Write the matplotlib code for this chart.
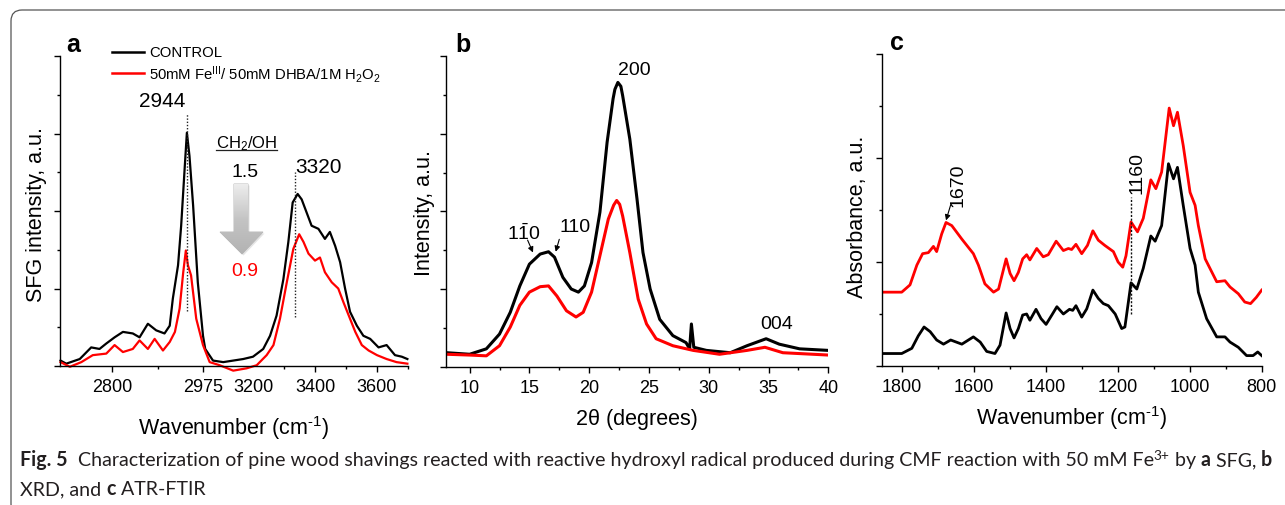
import numpy as np
import matplotlib
matplotlib.use('Agg')
import matplotlib.pyplot as plt
from matplotlib.patches import Polygon, FancyBboxPatch
from matplotlib.lines import Line2D
from matplotlib.ticker import MultipleLocator, FixedLocator, NullFormatter
from matplotlib import font_manager as fm
from matplotlib.transforms import IdentityTransform

plt.rcParams['font.family'] = ['Liberation Sans', 'DejaVu Sans']
plt.rcParams['mathtext.default'] = 'regular'

# ---------------- data ----------------
# (a) SFG
sfg_x_control = [2701, 2712, 2738, 2760, 2776, 2789, 2805, 2821, 2840, 2853,
                 2869, 2885, 2901, 2911, 2917, 2927, 2933, 2940, 2944, 2949,
                 2956, 2965, 2975, 2985, 3020, 3066, 3111, 3156, 3200, 3233,
                 3255, 3276, 3298, 3314, 3328, 3344, 3357, 3373, 3389, 3411,
                 3432, 3448, 3465, 3481, 3497, 3513, 3535, 3556, 3578, 3605,
                 3631, 3658, 3680, 3698]
sfg_y_control = [0.07, 0.03, 0.09, 0.24, 0.22, 0.29, 0.37, 0.44, 0.42, 0.37,
                 0.545, 0.46, 0.42, 0.52, 0.87, 1.30, 1.81, 2.58, 3.01, 2.71,
                 2.07, 1.08, 0.39, 0.22, 0.07, 0.05, 0.07, 0.09, 0.12, 0.22,
                 0.39, 0.65, 1.12, 1.60, 2.11, 2.22, 2.15, 1.98, 1.81, 1.77,
                 1.64, 1.73, 1.55, 1.34, 1.00, 0.70, 0.52, 0.39, 0.35, 0.24,
                 0.27, 0.14, 0.12, 0.09]
sfg_x_treated = [2701, 2719, 2741, 2763, 2789, 2805, 2821, 2840, 2853, 2869,
                 2882, 2898, 2911, 2921, 2930, 2937, 2942, 2946, 2952, 2962,
                 2975, 3005, 3050, 3111, 3171, 3212, 3244, 3266, 3287, 3309,
                 3330, 3349, 3363, 3379, 3400, 3416, 3432, 3454, 3475, 3492,
                 3513, 3530, 3551, 3573, 3600, 3631, 3663, 3698]
sfg_y_treated = [0.05, -0.01, 0.05, 0.14, 0.16, 0.27, 0.18, 0.22, 0.33, 0.22,
                 0.35, 0.20, 0.31, 0.44, 0.74, 1.21, 1.49, 1.30, 1.17, 0.61,
                 0.27, 0.05, 0.01, -0.06, -0.03, 0.01, 0.14, 0.27, 0.61, 1.08,
                 1.51, 1.70, 1.60, 1.45, 1.36, 1.40, 1.21, 1.08, 1.00, 0.82,
                 0.61, 0.44, 0.27, 0.20, 0.14, 0.09, 0.05, 0.03]
sfg_ticks = [2800, 2975, 3200, 3400, 3600]

# (b) XRD
xrd_x_control = [8.1, 10.0, 11.4, 12.5, 13.4, 14.2, 15.0, 15.9, 16.6, 17.1,
                 17.8, 18.5, 19.1, 19.6, 20.2, 20.9, 21.5, 22.0, 22.15, 22.4,
                 22.65, 22.8, 23.4, 24.0, 24.5, 25.1, 25.9, 27.0, 28.1, 28.4,
                 28.55, 28.75, 29.8, 31.8, 33.2, 34.8, 35.9, 37.6, 40.0]
xrd_y_control = [0.18, 0.16, 0.23, 0.42, 0.70, 1.04, 1.32, 1.45, 1.48, 1.41,
                 1.15, 1.00, 0.96, 1.04, 1.34, 1.99, 2.89, 3.45, 3.57, 3.66,
                 3.61, 3.49, 2.93, 2.16, 1.47, 1.00, 0.61, 0.40, 0.31, 0.23,
                 0.55, 0.25, 0.21, 0.18, 0.27, 0.36, 0.29, 0.23, 0.21]
xrd_x_treated = [8.1, 10.0, 11.4, 12.5, 13.4, 14.2, 15.0, 15.9, 16.6, 17.3,
                 18.1, 18.9, 19.5, 20.2, 20.9, 21.6, 22.05, 22.3, 22.55, 22.8,
                 23.4, 24.1, 24.8, 25.6, 27.0, 28.7, 30.9, 33.2, 34.7, 36.2,
                 40.0]
xrd_y_treated = [0.16, 0.15, 0.14, 0.27, 0.51, 0.79, 0.96, 1.03, 1.04, 0.91,
                 0.72, 0.64, 0.70, 0.96, 1.43, 1.90, 2.08, 2.14, 2.09, 1.94,
                 1.47, 0.87, 0.55, 0.36, 0.27, 0.21, 0.16, 0.21, 0.25, 0.18,
                 0.15]

# (c) ATR-FTIR
ftir_x_control = [1851, 1800, 1772, 1754, 1738, 1721, 1703, 1684, 1664, 1633,
                  1601, 1582, 1564, 1541, 1527, 1510, 1499, 1488, 1476, 1464,
                  1453, 1444, 1427, 1413, 1399, 1383, 1369, 1351, 1334, 1325,
                  1316, 1300, 1286, 1269, 1254, 1240, 1226, 1207, 1189, 1180,
                  1163, 1147, 1129, 1108, 1096, 1078, 1059, 1045, 1034, 1018,
                  999, 985, 976, 953, 925, 902, 888, 865, 842, 824,
                  811, 800]
ftir_y_control = [0.12, 0.12, 0.17, 0.29, 0.375, 0.33, 0.25, 0.21, 0.25, 0.21,
                  0.28, 0.23, 0.14, 0.12, 0.20, 0.51, 0.36, 0.27, 0.36, 0.49,
                  0.50, 0.44, 0.545, 0.455, 0.40, 0.49, 0.57, 0.50, 0.545, 0.535,
                  0.58, 0.47, 0.55, 0.73, 0.65, 0.60, 0.58, 0.50, 0.36, 0.375,
                  0.80, 0.74, 0.94, 1.25, 1.20, 1.35, 1.945, 1.80, 1.91, 1.545,
                  1.13, 0.97, 0.71, 0.455, 0.28, 0.28, 0.23, 0.18, 0.10, 0.10,
                  0.135, 0.10]
ftir_x_treated = [1851, 1800, 1777, 1758, 1742, 1726, 1712, 1703, 1689, 1677,
                  1661, 1633, 1601, 1587, 1569, 1545, 1531, 1510, 1499, 1488,
                  1476, 1464, 1453, 1444, 1425, 1407, 1393, 1371, 1351, 1337,
                  1328, 1316, 1300, 1284, 1269, 1254, 1236, 1212, 1199, 1186,
                  1177, 1163, 1145, 1129, 1108, 1094, 1078, 1057, 1045, 1034,
                  1018, 999, 985, 976, 957, 925, 902, 888, 865, 847,
                  831, 815, 800]
ftir_y_treated = [0.71, 0.71, 0.78, 0.97, 1.08, 1.09, 1.15, 1.10, 1.27, 1.38,
                  1.35, 1.22, 1.08, 0.97, 0.79, 0.71, 0.74, 1.03, 0.89, 0.82,
                  0.90, 1.03, 1.07, 1.02, 1.13, 1.05, 1.07, 1.20, 1.11, 1.13,
                  1.12, 1.17, 1.08, 1.16, 1.30, 1.21, 1.16, 1.10, 1.00, 0.95,
                  1.06, 1.385, 1.29, 1.42, 1.79, 1.705, 1.865, 2.48, 2.31, 2.44,
                  2.12, 1.67, 1.545, 1.35, 1.03, 0.81, 0.82, 0.76, 0.695, 0.615,
                  0.60, 0.66, 0.73]

legend_labels = ['CONTROL', '50mM Fe$^{III}$/ 50mM DHBA/1M H$_2$O$_2$']
RED = '#ff0000'
BLACK = '#000000'
WAVENUMBER = 'Wavenumber (cm$^{\u2010' + '1}$)'

# ---------------- figure ----------------
W, H = 1285, 506
fig = plt.figure(figsize=(W / 100, H / 100), dpi=100)


def rect(l, t, r, b):
    return [l / W, 1 - b / H, (r - l) / W, (b - t) / H]


axA = fig.add_axes(rect(60, 57, 408, 367))
axB = fig.add_axes(rect(445.7, 57, 828.3, 367.7))
axC = fig.add_axes(rect(882.3, 55, 1261.7, 367))

for ax in (axA, axB, axC):
    for s in ('top', 'right'):
        ax.spines[s].set_visible(False)
    for s in ('left', 'bottom'):
        ax.spines[s].set_linewidth(1.0)
    ax.tick_params(which='major', direction='out', length=4, width=1.0,
                   labelsize=13, pad=5)
    ax.tick_params(which='minor', direction='out', length=2.5, width=1.0)
    ax.yaxis.set_major_formatter(NullFormatter())
    ax.set_facecolor('none')

# broken-style axis for SFG
XB = np.array([2700., 2975., 3200., 3700.])
PB = np.array([0., 143., 193., 348.])


def fwd(x):
    x = np.asarray(x, dtype=float)
    y = np.interp(x, XB, PB)
    lo = x < XB[0]
    hi = x > XB[-1]
    s0 = (PB[1] - PB[0]) / (XB[1] - XB[0])
    s1 = (PB[-1] - PB[-2]) / (XB[-1] - XB[-2])
    y = np.where(lo, PB[0] + (x - XB[0]) * s0, y)
    y = np.where(hi, PB[-1] + (x - XB[-1]) * s1, y)
    return y


def inv(p):
    p = np.asarray(p, dtype=float)
    y = np.interp(p, PB, XB)
    lo = p < PB[0]
    hi = p > PB[-1]
    s0 = (XB[1] - XB[0]) / (PB[1] - PB[0])
    s1 = (XB[-1] - XB[-2]) / (PB[-1] - PB[-2])
    y = np.where(lo, XB[0] + (p - PB[0]) * s0, y)
    y = np.where(hi, XB[-1] + (p - PB[-1]) * s1, y)
    return y


axA.set_xscale('function', functions=(fwd, inv))
axA.set_xlim(2700, 3700)
axA.set_ylim(0, 4)
axA.xaxis.set_major_locator(FixedLocator(sfg_ticks))
axA.xaxis.set_minor_locator(FixedLocator([2887.5, 3300, 3500, 3700]))
axA.xaxis.set_minor_formatter(NullFormatter())
axA.yaxis.set_major_locator(MultipleLocator(1))
axA.yaxis.set_minor_locator(MultipleLocator(0.5))
axA.plot(sfg_x_control, sfg_y_control, color=BLACK, lw=1.6, clip_on=False)
axA.plot(sfg_x_treated, sfg_y_treated, color=RED, lw=1.6, clip_on=False)
fig.canvas.draw()
for t in axA.xaxis.get_major_ticks():
    if abs(t.get_loc() - 3200) < 1e-6:
        t.tick1line.set_visible(False)

axA.plot([2944, 2944], [0.71, 3.25], color='#222222', lw=1.0, ls=(0, (1, 1.3)))
axA.plot([3335, 3335], [0.63, 2.50], color='#222222', lw=1.0, ls=(0, (1, 1.3)))


def fx(px):
    return (px - 60) / 348


def fy(py):
    return (367 - py) / 310


axA.text(fx(162), fy(102), '2944', transform=axA.transAxes, ha='center', va='center', fontsize=15)
axA.text(fx(319), fy(168), '3320', transform=axA.transAxes, ha='center', va='center', fontsize=15)
axA.text(fx(247), fy(144), 'CH$_2$/OH', transform=axA.transAxes, ha='center', va='center', fontsize=12)
axA.plot([fx(216), fx(277)], [fy(151), fy(151)], transform=axA.transAxes, color='#222222', lw=0.9, clip_on=False)
axA.text(fx(245), fy(173), '1.5', transform=axA.transAxes, ha='center', va='center', fontsize=14)
axA.text(fx(245), fy(271), '0.9', transform=axA.transAxes, ha='center', va='center', fontsize=14, color=RED)

# gradient block arrow
arrow_px = [(234, 185), (248, 185), (248, 233), (263, 233), (242, 255), (220, 233), (234, 233)]
arrow_pts = [(fx(a), fy(b)) for a, b in arrow_px]
shadow = Polygon([(fx(a + 1.5), fy(b + 1.5)) for a, b in arrow_px], closed=True,
                 transform=axA.transAxes, facecolor='#d9d9d9', edgecolor='none', alpha=0.7)
axA.add_patch(shadow)
poly = Polygon(arrow_pts, closed=True, transform=axA.transAxes, facecolor='none',
               edgecolor='#b0b0b0', lw=0.6)
axA.add_patch(poly)
grad = np.linspace(0, 1, 100).reshape(-1, 1)
cm = matplotlib.colors.LinearSegmentedColormap.from_list('g', ['#ededed', '#c4c4c4', '#b3b3b3'])
im = axA.imshow(grad, cmap=cm, aspect='auto', transform=axA.transAxes,
                extent=[fx(220), fx(263), fy(255), fy(185)], origin='upper', zorder=1.5)
im.set_clip_path(poly)
axA.set_xlim(2700, 3700)
axA.set_ylim(0, 4)

axA.set_xlabel(WAVENUMBER, fontsize=15.5, va='center')
axA.xaxis.set_label_coords(0.5, fy(428))
axA.set_ylabel('SFG intensity, a.u.', fontsize=15.5, va='center')
axA.yaxis.set_label_coords(fx(37), fy(215))

# legend (manual)
for yy, col, lab in ((53, BLACK, legend_labels[0]), (74, RED, legend_labels[1])):
    fig.add_artist(Line2D([112 / W, 144 / W], [1 - yy / H, 1 - yy / H], color=col, lw=1.8))
    fig.text(149 / W, 1 - yy / H, lab, ha='left', va='center', fontsize=10.7)

# ---- panel b ----
axB.plot(xrd_x_control, xrd_y_control, color=BLACK, lw=2.2)
axB.plot(xrd_x_treated, xrd_y_treated, color=RED, lw=2.2)
axB.set_xlim(8, 40)
axB.set_ylim(0, 4)
axB.xaxis.set_major_locator(MultipleLocator(5))
axB.xaxis.set_minor_locator(MultipleLocator(2.5))
axB.yaxis.set_major_locator(MultipleLocator(1))
axB.yaxis.set_minor_locator(MultipleLocator(0.5))
axB.text(23.8, 3.83, '200', ha='center', va='center', fontsize=14)
axB.text(14.5, 1.73, r'$1\bar{1}0$', ha='center', va='center', fontsize=14)
axB.text(18.85, 1.80, '110', ha='center', va='center', fontsize=14)
axB.text(35.7, 0.55, '004', ha='center', va='center', fontsize=14)
axB.annotate('', xy=(15.3, 1.47), xytext=(14.85, 1.63),
             arrowprops=dict(arrowstyle='-|>', color='black', lw=0.8, mutation_scale=8,
                             shrinkA=0, shrinkB=0))
axB.annotate('', xy=(17.2, 1.48), xytext=(17.5, 1.64),
             arrowprops=dict(arrowstyle='-|>', color='black', lw=0.8, mutation_scale=8,
                             shrinkA=0, shrinkB=0))
axB.set_xlabel('2θ (degrees)', fontsize=15.5, va='center')
axB.xaxis.set_label_coords(0.5, (367.7 - 420) / 310.7)
axB.set_ylabel('Intensity, a.u.', fontsize=15.5, va='center')
axB.yaxis.set_label_coords((425 - 445.7) / 382.6, (367.7 - 213) / 310.7)

# ---- panel c ----
axC.plot(ftir_x_control, ftir_y_control, color=BLACK, lw=2.0)
axC.plot(ftir_x_treated, ftir_y_treated, color=RED, lw=2.0)
axC.set_xlim(1854, 800)
axC.set_ylim(0, 3)
axC.xaxis.set_major_locator(MultipleLocator(200))
axC.xaxis.set_minor_locator(MultipleLocator(100))
axC.yaxis.set_major_locator(MultipleLocator(1))
axC.yaxis.set_minor_locator(MultipleLocator(0.5))
axC.plot([1163, 1163], [0.50, 1.625], color='#111111', lw=1.0, ls=(0, (1.5, 1.2)))
axC.text(1643, 1.75, '1670', rotation=90, ha='center', va='center', fontsize=14)
axC.text(1147, 1.87, '1160', rotation=90, ha='center', va='center', fontsize=14)
axC.annotate('', xy=(1677, 1.40), xytext=(1664, 1.55),
             arrowprops=dict(arrowstyle='-|>', color='black', lw=0.8, mutation_scale=8,
                             shrinkA=0, shrinkB=0))
axC.set_xlabel(WAVENUMBER, fontsize=15.5, va='center')
axC.xaxis.set_label_coords(0.5, (367 - 418) / 312)
axC.set_ylabel('Absorbance, a.u.', fontsize=15.5, va='center')
axC.yaxis.set_label_coords((858 - 882.3) / 379.4, (367 - 217) / 312)

# panel letters
for lab, x, y in (('a', 73, 45), ('b', 463, 45), ('c', 897, 43)):
    fig.text(x / W, 1 - y / H, lab, ha='center', va='center', fontsize=18, fontweight='bold')

# frame
frame = FancyBboxPatch((11, -10), 1400, 495 + 10, boxstyle='round,pad=0,rounding_size=11',
                       transform=IdentityTransform(), facecolor='none', edgecolor='#555555',
                       lw=0.9)
fig.add_artist(frame)


# caption
def has_font(name):
    try:
        fm.findfont(fm.FontProperties(family=name), fallback_to_default=False)
        return True
    except Exception:
        return False


cap_fam = 'Liberation Sans Narrow' if has_font('Liberation Sans Narrow') else 'Lato'
renderer = fig.canvas.get_renderer()
CAPC = '#231f20'


def text_w(s, size, weight):
    t1 = fig.text(0, 0, s + '|', fontsize=size, fontweight=weight, family=[cap_fam, 'DejaVu Sans'])
    t2 = fig.text(0, 0, '|', fontsize=size, fontweight=weight, family=[cap_fam, 'DejaVu Sans'])
    w = t1.get_window_extent(renderer).width - t2.get_window_extent(renderer).width
    t1.remove()
    t2.remove()
    return w


line1 = [('Fig. 5', 'bold', 0), ('  Characterization of pine wood shavings reacted with reactive hydroxyl radical '
                                 'produced during CMF reaction with 50 mM Fe', 'normal', 0),
         ('3+', 'normal', 1), (' by ', 'normal', 0), ('a', 'bold', 0), (' SFG, ', 'normal', 0),
         ('b', 'bold', 0)]
line2 = [('XRD, and ', 'normal', 0), ('c', 'bold', 0), (' ATR-FTIR', 'normal', 0)]

base = 10.0
tot = sum(text_w(s, base * (0.7 if sup else 1), wgt) for s, wgt, sup in line1)
size = base * (1268 - 20) / tot


def draw_line(segs, y):
    x = 20
    for s, wgt, sup in segs:
        sz = size * (0.7 if sup else 1)
        yy = y - (size * 0.45 if sup else 0)
        fig.text(x / W, 1 - yy / H, s, fontsize=sz, fontweight=wgt, color=CAPC,
                 family=[cap_fam, 'DejaVu Sans'], ha='left', va='baseline')
        x += text_w(s, sz, wgt)


draw_line(line1, 466)
draw_line(line2, 495)

fig.savefig('out.png', dpi=100)
